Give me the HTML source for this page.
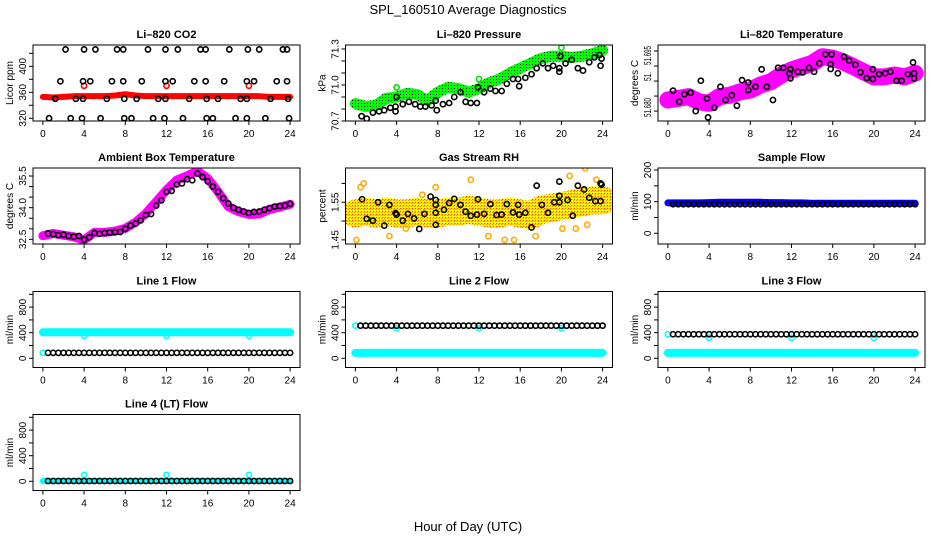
<!DOCTYPE html>
<html><head><meta charset="utf-8">
<style>
html,body{margin:0;padding:0;background:#fff;}
svg{display:block;font-family:"Liberation Sans",Arial,sans-serif;}
</style></head>
<body>
<svg id="chart" width="936" height="540" viewBox="0 0 936 540" xmlns="http://www.w3.org/2000/svg">
<defs>
<pattern id="dotsG" width="3" height="3" patternUnits="userSpaceOnUse"><rect width="3" height="3" fill="#00ff00"/><rect x="1" y="1" width="1" height="1" fill="#000"/></pattern>
<pattern id="dotsY" width="3" height="3" patternUnits="userSpaceOnUse"><rect width="3" height="3" fill="#ffff00"/><rect x="1" y="1" width="1.2" height="1.2" fill="#ff3300"/><rect x="0" y="2" width="1" height="1" fill="#ff8800"/></pattern>
</defs>
<text x="468" y="14" text-anchor="middle" font-size="13">SPL_160510  Average Diagnostics</text>
<text x="468" y="531" text-anchor="middle" font-size="13">Hour of Day (UTC)</text>
</svg>
<script>
// ---------- data ----------
const xTicks = [0,4,8,12,16,20,24];

const co2BlackHours = [2.2,4.0,5.1,7.2,7.8,10.2,11.9,13.1,15.3,15.8,18.1,19.9,21.0,23.3,23.7,
 1.7,3.9,4.6,6.7,7.8,9.6,11.9,12.6,14.7,15.8,17.6,19.8,20.5,22.7,23.7,
 1.2,3.2,3.9,6.2,7.9,9.1,11.2,11.9,14.2,15.9,17.0,19.2,19.8,22.1,23.8,
 0.6,2.7,3.8,5.6,7.9,8.6,10.7,11.8,13.6,15.9,16.5,18.7,19.8,21.6,23.9];
const co2BlackValues = [426,426,426,426,426,426,426,426,426,426,426,426,426,426,426,
 377,377,377,377,377,377,377,377,377,377,377,377,377,377,377,
 350,350,350,350,350,350,350,350,350,350,350,350,350,350,350,
 320,320,320,320,320,320,320,320,320,320,320,320,320,320,320];
const co2Red = [353,352,353,354,354,354,354,355,357,355,354,354,354,354,354,354,354,354,354,354,354,354,353,353,353];
const co2RedOutHours = [4,12,20];
const co2RedOutValues = [370,370,370];

const presGreen = [70.845,70.82,70.83,70.89,70.90,70.93,70.92,70.87,70.94,70.98,70.97,70.94,70.97,71.02,71.05,71.10,71.14,71.18,71.22,71.24,71.24,71.23,71.24,71.26,71.29];
const presGreenOutHours = [4,12,20];
const presGreenOutValues = [70.98,71.05,71.31];
const presBlackHours = [0.6,1.1,1.7,2.3,2.8,3.4,3.9,3.9,4,4.6,5.2,5.8,6.3,6.8,7.4,7.8,7.9,8.5,9.1,9.6,10.2,10.7,11.2,11.8,11.9,12.5,13.1,13.6,14.2,14.7,15.3,15.8,15.9,16.5,17.1,17.6,18.2,18.7,19.2,19.8,19.8,19.9,20.4,21.0,21.6,22.1,22.7,23.2,23.7,23.8,23.9];
const presBlackValues = [70.74,70.72,70.77,70.78,70.79,70.81,70.82,70.78,70.90,70.84,70.86,70.84,70.82,70.82,70.83,70.87,70.79,70.84,70.85,70.90,70.94,70.86,70.85,70.85,70.98,70.94,70.97,70.95,70.95,71.01,71.05,71.05,70.99,71.06,71.09,71.14,71.18,71.14,71.16,71.14,71.11,71.24,71.18,71.21,71.14,71.12,71.19,71.23,71.25,71.16,71.22];

const tempPink = [51.6787,51.6792,51.6798,51.6781,51.6776,51.6798,51.6803,51.6814,51.682,51.6837,51.6848,51.687,51.6887,51.6898,51.6909,51.6931,51.6926,51.6914,51.6898,51.6881,51.6864,51.6864,51.687,51.6864,51.6876];
const tempBlackHours = [0.5,1.1,1.6,2.2,2.7,3.2,3.8,3.9,4.5,5.1,5.6,6.2,6.7,7.2,7.8,7.8,8.5,9.1,9.6,10.2,10.7,11.2,11.8,11.9,11.9,12.6,13.1,13.7,14.2,14.7,15.3,15.8,15.8,15.9,16.5,17.1,17.6,18.2,18.7,19.3,19.9,19.9,20.5,21.1,21.6,22.2,22.7,23.3,23.8,23.9,23.9];
const tempBlackValues = [51.6818,51.6781,51.6806,51.6811,51.675,51.6851,51.6792,51.6729,51.6761,51.6831,51.6787,51.6803,51.6768,51.6853,51.6845,51.682,51.6831,51.6889,51.6831,51.6787,51.6894,51.6894,51.6876,51.6889,51.6859,51.6881,51.6879,51.6894,51.6881,51.6909,51.6939,51.6906,51.689,51.6939,51.6876,51.6931,51.6918,51.6904,51.6879,51.686,51.6889,51.6857,51.6873,51.6876,51.6881,51.6851,51.6851,51.6873,51.6912,51.6876,51.6859];

const ambPink = [32.67,32.78,32.70,32.62,32.47,32.83,32.83,32.89,33.02,33.31,33.73,34.28,34.84,35.31,35.51,35.74,35.39,34.76,34.05,33.81,33.68,33.70,33.92,34.03,34.16];
const ambBlack = [32.78,32.75,32.70,32.72,32.66,32.62,32.66,32.48,32.60,32.80,32.76,32.80,32.82,32.84,32.85,33.00,33.15,33.25,33.40,33.65,33.70,34.10,34.35,34.75,34.80,35.10,35.15,35.35,35.30,35.62,35.45,35.25,35.00,34.75,34.45,34.20,34.00,33.90,33.82,33.75,33.80,33.82,33.90,33.98,34.05,34.08,34.10,34.18];

const rhOrange = [1.52,1.525,1.52,1.525,1.52,1.52,1.525,1.52,1.52,1.525,1.525,1.53,1.525,1.52,1.52,1.525,1.52,1.515,1.53,1.535,1.54,1.545,1.55,1.555,1.555];
const rhOutHours = [0.1,0.5,0.8,3.3,4.9,6.5,7.8,11.2,12.9,14.5,15.4,17.5,20.1,20.8,21.4,22.3,22.5,23.4];
const rhOutValues = [1.45,1.59,1.60,1.46,1.48,1.57,1.59,1.61,1.46,1.45,1.45,1.46,1.48,1.62,1.48,1.64,1.49,1.61];
const rhBlackHours = [0.65,1.1,1.7,2.2,2.8,3.3,3.9,4.0,4.6,5.1,5.7,6.2,6.7,7.3,7.8,7.8,7.8,7.8,8.6,9.1,9.6,10.2,10.7,11.2,11.8,11.9,12.5,13.1,13.7,14.2,14.7,15.3,15.8,15.9,16.5,17.1,17.6,18.1,18.7,19.3,19.8,19.8,19.8,20.6,21.1,21.6,22.2,22.7,23.3,23.8,23.8,23.9];
const rhBlackValues = [1.558,1.506,1.501,1.55,1.488,1.543,1.521,1.517,1.501,1.519,1.507,1.479,1.519,1.565,1.556,1.543,1.522,1.49,1.53,1.548,1.559,1.543,1.525,1.514,1.517,1.558,1.519,1.545,1.516,1.517,1.545,1.523,1.543,1.517,1.522,1.483,1.594,1.543,1.522,1.55,1.605,1.55,1.567,1.556,1.514,1.594,1.584,1.562,1.553,1.6,1.553,1.597];

const sfBlue = [96,96,96,96,97,98,98,98,98,98,97,97,96,96,95,95,95,95,95,95,95,95,95,95,95];
const sfBlack = [92,92,92,92,92,92,92,92,92,92,92,92,92,92,92,92,92,92,92,92,92,92,92,92,92,92,92,92,92,92,92,92,92,92,92,92,92,92,92,92,92,92,92,92,92,92,92,92];

const l1Cyan = [407,407,407,407,407,407,407,407,407,407,407,407,407,407,407,407,407,407,407,407,407,407,407,407,407];
const l1Black = [85,85,85,85,85,85,85,85,85,85,85,85,85,85,85,85,85,85,85,85,85,85,85,85,85,85,85,85,85,85,85,85,85,85,85,85,85,85,85,85,85,85,85,85,85,85,85,85];
const l1OutHours = [0,4,12,20];
const l1OutValues = [85,350,350,350];

const l2Cyan = [85,85,85,85,85,85,85,85,85,85,85,85,85,85,85,85,85,85,85,85,85,85,85,85,85];
const l2Black = [510,510,510,510,510,510,510,510,510,510,510,510,510,510,510,510,510,510,510,510,510,510,510,510,510,510,510,510,510,510,510,510,510,510,510,510,510,510,510,510,510,510,510,510,510,510,510,510];
const l2OutHours = [0,4,12,20];
const l2OutValues = [510,470,470,470];

const l3Cyan = [85,85,85,85,85,85,85,85,85,85,85,85,85,85,85,85,85,85,85,85,85,85,85,85,85];
const l3Black = [376,376,376,376,376,376,376,376,376,376,376,376,376,376,376,376,376,376,376,376,376,376,376,376,376,376,376,376,376,376,376,376,376,376,376,376,376,376,376,376,376,376,376,376,376,376,376,376];
const l3OutHours = [0,4,12,20];
const l3OutValues = [376,320,320,320];

const l4Cyan = [5,5,5,5,5,5,5,5,5,5,5,5,5,5,5,5,5,5,5,5,5,5,5,5,5];
const l4Black = [5,5,5,5,5,5,5,5,5,5,5,5,5,5,5,5,5,5,5,5,5,5,5,5,5,5,5,5,5,5,5,5,5,5,5,5,5,5,5,5,5,5,5,5,5,5,5,5];
const l4OutHours = [4,12,20];
const l4OutValues = [100,100,100];

// ---------- drawing ----------
const svg = document.getElementById('chart');
const NS = 'http://www.w3.org/2000/svg';
const BW = 267, BH = 76;
const rowTop = [45,168,291.5,414.5];
function el(tag, attrs, parent){
  const e = document.createElementNS(NS, tag);
  for (const k in attrs) e.setAttribute(k, attrs[k]);
  (parent||svg).appendChild(e);
  return e;
}
function makePanel(col,row,ylim,name,title,ylab,yTicks,yLabels){
  const bx = 33 + 312.5*col, by = rowTop[row];
  const g = el('g',{});
  
  
  const sx = h => bx + (h+0.96)*BW/25.92;
  const sy = v => by + BH - (v-ylim[0])/(ylim[1]-ylim[0])*BH;
  const t = el('text',{x:bx+BW/2,y:by-7,'text-anchor':'middle','font-size':11,'font-weight':'bold'},g);
  t.textContent = title;
  
  
  const yt = el('text',{transform:`translate(${bx-20},${by+BH/2}) rotate(-90)`,'text-anchor':'middle','font-size':10},g);
  yt.textContent = ylab;
  
  
  const axis = el('g',{stroke:'#000','stroke-width':1},g);
  
  
  xTicks.forEach(h=>{
    el('line',{x1:sx(h),x2:sx(h),y1:by+BH,y2:by+BH+4},axis);
    const l = el('text',{x:sx(h),y:by+BH+16,'text-anchor':'middle','font-size':10,stroke:'none'},g);
    l.textContent = h;
    
    
  });
  yTicks.forEach(v=>{ el('line',{x1:bx-4,x2:bx,y1:sy(v),y2:sy(v)},axis); });
  yLabels.forEach(o=>{
    const a = {transform:`translate(${bx-7},${sy(o.v)}) rotate(-90)`,'text-anchor':'middle','font-size':10};
    if (o.len) { a.textLength = o.len; a.lengthAdjust = 'spacingAndGlyphs'; }
    const l = el('text',a,g);
    l.textContent = o.t;
    
    
  });
  const plot = el('g',{},g);
  el('rect',{x:bx,y:by,width:BW,height:BH,fill:'none',stroke:'#000','stroke-width':1},g);
  const cp = el('clipPath',{id:'clip'+name},g);
  el('rect',{x:bx,y:by,width:BW,height:BH},cp);
  plot.setAttribute('clip-path', `url(#clip${name})`);
  return {sx,sy,plot,name};
}
function band(p, vals, color, width, series){
  const pts = vals.map((v,i)=>p.sx(i)+','+p.sy(v)).join(' ');
  const pl = el('polyline',{points:pts,fill:'none',stroke:color,'stroke-width':width,'stroke-linejoin':'round','stroke-linecap':'round'},p.plot);
  
  
}
function points(p, hours, vals, color, series){
  const g = el('g',{fill:'none',stroke:color,'stroke-width':1.6},p.plot);
  
  
  vals.forEach((v,i)=>{
    const c = el('circle',{cx:p.sx(hours[i]),cy:p.sy(v),r:2.6},g);
    
    
  });
}
const halfHours = []; for (let i=1;i<=48;i++) halfHours.push(i*0.5);
function lab(arr){ return arr.map(v=>({v:v,t:String(v)})); }

// Li-820 CO2
let p = makePanel(0,0,[315.8,432.8],'co2-panel','Li\u2013820 CO2','Licor ppm',[320,340,360,380,400,420],lab([320,360,400]));
band(p, co2Red, '#ff0000', 6, 'red-band');
points(p, co2RedOutHours, co2RedOutValues, '#ff0000', 'red-points');
points(p, co2BlackHours, co2BlackValues, '#000', 'black-points');

// Pressure
p = makePanel(1,0,[70.70,71.333],'pressure-panel','Li\u2013820 Pressure','kPa',[70.7,70.8,70.9,71.0,71.1,71.2,71.3],[{v:70.7,t:'70.7'},{v:71.0,t:'71.0'},{v:71.3,t:'71.3'}]);
band(p, presGreen, 'url(#dotsG)', 11, 'green-band');
points(p, presGreenOutHours, presGreenOutValues, '#00dd00', 'green-points');
points(p, presBlackHours, presBlackValues, '#000', 'black-points');

// Temperature
p = makePanel(2,0,[51.6717,51.6970],'temperature-panel','Li\u2013820 Temperature','degrees C',[51.675,51.680,51.685,51.690,51.695],[{v:51.6935,t:'51.695',len:19},{v:51.6865,t:'51.',len:9},{v:51.6762,t:'51.680',len:19}]);
band(p, tempPink, '#ff00ff', 17, 'pink-band');
points(p, tempBlackHours, tempBlackValues, '#000', 'black-points');

// Ambient
p = makePanel(0,1,[32.28,35.88],'ambient-panel','Ambient Box Temperature','degrees C',[32.5,33.0,33.5,34.0,34.5,35.0,35.5],[{v:32.5,t:'32.5'},{v:34.0,t:'34.0'},{v:35.5,t:'35.5'}]);
band(p, ambPink, '#ff00ff', 9, 'pink-band');
points(p, halfHours, ambBlack, '#000', 'black-points');

// Gas Stream RH
p = makePanel(1,1,[1.439,1.641],'rh-panel','Gas Stream RH','percent',[1.45,1.50,1.55,1.60],[{v:1.45,t:'1.45'},{v:1.55,t:'1.55'}]);
band(p, rhOrange, 'url(#dotsY)', 28, 'orange-band');
points(p, rhOutHours, rhOutValues, '#ffaa00', 'orange-points');
points(p, rhBlackHours, rhBlackValues, '#000', 'black-points');

// Sample Flow
p = makePanel(2,1,[-33.8,206.3],'sample-flow-panel','Sample Flow','ml/min',[0,50,100,150,200],lab([0,100,200]));
band(p, sfBlue, '#0000ff', 7, 'blue-band');
points(p, halfHours, sfBlack, '#000', 'black-points');

const flowTicks = [0,200,400,600,800,1000];
const flowLabels = lab([0,400,800]);
// Line 1
p = makePanel(0,2,[-144,1044],'line1-panel','Line 1 Flow','ml/min',flowTicks,flowLabels);
band(p, l1Cyan, '#00ffff', 8, 'cyan-band');
points(p, l1OutHours, l1OutValues, '#00ffff', 'cyan-points');
points(p, halfHours, l1Black, '#000', 'black-points');
// Line 2
p = makePanel(1,2,[-144,1044],'line2-panel','Line 2 Flow','ml/min',flowTicks,flowLabels);
band(p, l2Cyan, '#00ffff', 8, 'cyan-band');
points(p, l2OutHours, l2OutValues, '#00ffff', 'cyan-points');
points(p, halfHours, l2Black, '#000', 'black-points');
// Line 3
p = makePanel(2,2,[-144,1044],'line3-panel','Line 3 Flow','ml/min',flowTicks,flowLabels);
band(p, l3Cyan, '#00ffff', 8, 'cyan-band');
points(p, l3OutHours, l3OutValues, '#00ffff', 'cyan-points');
points(p, halfHours, l3Black, '#000', 'black-points');
// Line 4
p = makePanel(0,3,[-144,1044],'line4-panel','Line 4 (LT) Flow','ml/min',flowTicks,flowLabels);
band(p, l4Cyan, '#00ffff', 6, 'cyan-band');
points(p, l4OutHours, l4OutValues, '#00ffff', 'cyan-points');
points(p, halfHours, l4Black, '#000', 'black-points');
</script>
</body></html>
